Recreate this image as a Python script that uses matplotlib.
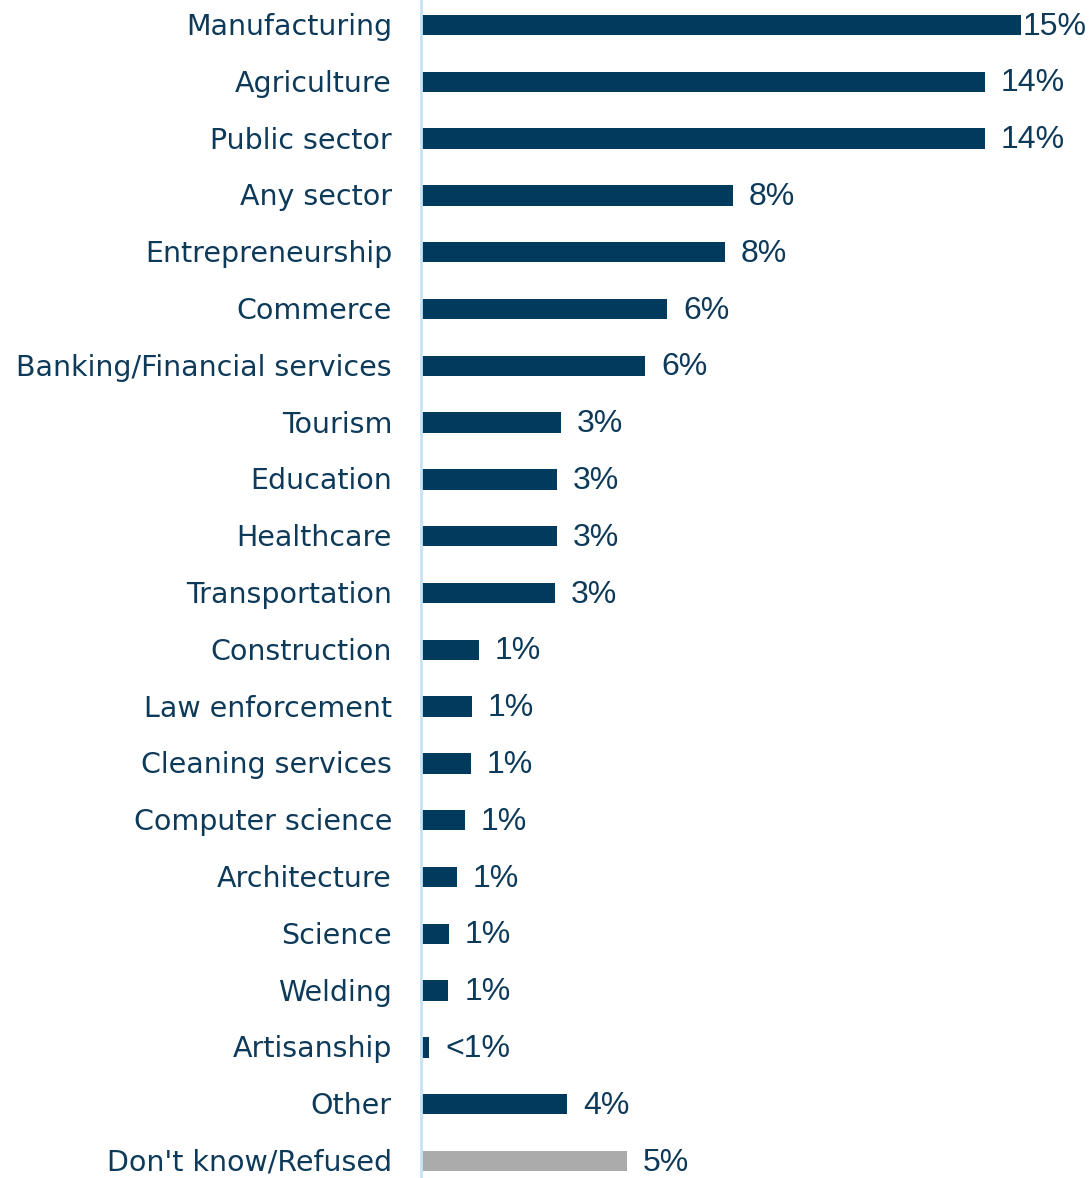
import numpy as np
import matplotlib.pyplot as plt
from matplotlib.transforms import offset_copy

# categories, top to bottom
categories = ["Manufacturing", "Agriculture", "Public sector", "Any sector",
              "Entrepreneurship", "Commerce", "Banking/Financial services",
              "Tourism", "Education", "Healthcare", "Transportation",
              "Construction", "Law enforcement", "Cleaning services",
              "Computer science", "Architecture", "Science", "Welding",
              "Artisanship", "Other", "Don't know/Refused"]
values = [15.0, 14.1, 14.1, 7.8, 7.6, 6.15, 5.6, 3.5, 3.4, 3.4, 3.35,
          1.45, 1.27, 1.24, 1.1, 0.9, 0.7, 0.68, 0.2, 3.65, 5.15]
value_labels = ["15%", "14%", "14%", "8%", "8%", "6%", "6%", "3%", "3%", "3%",
                "3%", "1%", "1%", "1%", "1%", "1%", "1%", "1%", "<1%", "4%", "5%"]

navy = "#003A5C"
grey = "#ABABAB"
text_col = "#0E3A5A"

fig = plt.figure(figsize=(10.89, 11.78), dpi=100)
ax = fig.add_axes([421 / 1089, 0, 668 / 1089, 1])

y = np.arange(len(categories))
colors = [navy] * (len(categories) - 1) + [grey]
ax.barh(y, values, height=0.36, color=colors, left=0)

ax.set_xlim(0, 16.7)
ax.set_ylim(20.3, -0.44)

for sp in ["top", "right", "bottom"]:
    ax.spines[sp].set_visible(False)
ax.spines["left"].set_color("#C6E4F8")
ax.spines["left"].set_linewidth(2)
ax.set_xticks([])
ax.set_yticks([])

# category labels, right aligned left of the axis
lab_tr = offset_copy(ax.transData, fig=fig, x=-29, y=-2, units="dots")
for i, c in enumerate(categories):
    ax.text(0, i, c, transform=lab_tr, ha="right", va="center",
            fontsize=20.5, color=text_col, clip_on=False)

# value labels
xmax_lab = 15.05
for i, (v, t) in enumerate(zip(values, value_labels)):
    xx = min(v + 0.4, xmax_lab)
    ax.text(xx, i + 0.03, t, ha="left", va="center", fontsize=23,
            family=["Liberation Sans", "DejaVu Sans"],
            color=text_col, clip_on=False)

plt.savefig("out.png", dpi=100)
